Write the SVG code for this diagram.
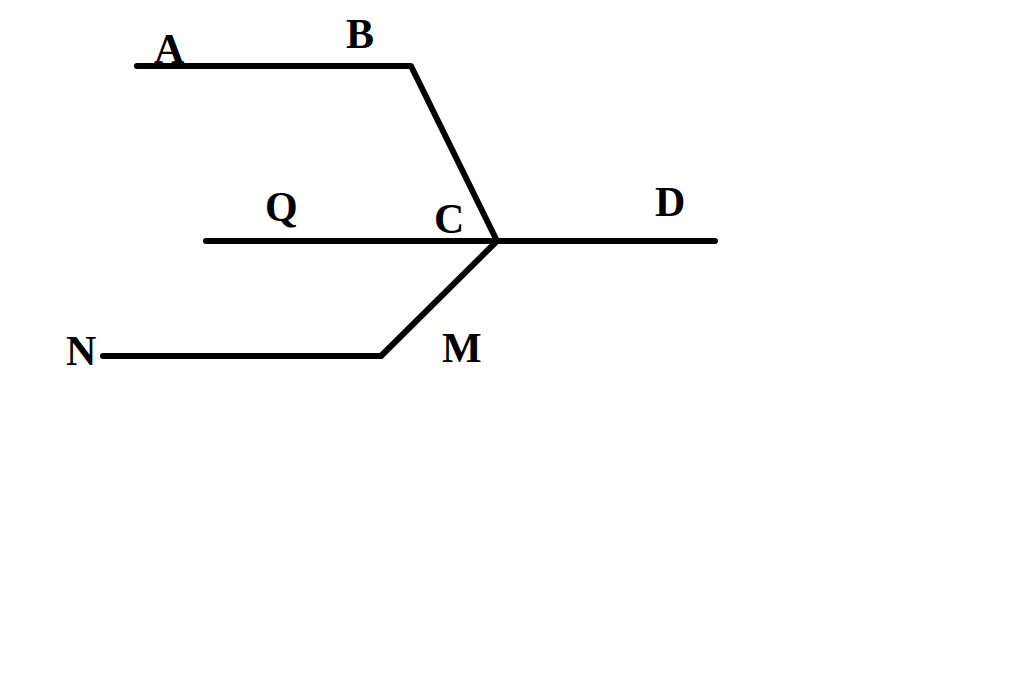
<svg xmlns="http://www.w3.org/2000/svg" width="1024" height="684" viewBox="0 0 1024 684">
<style>
.ln{stroke:#000;stroke-width:6;stroke-linecap:round;stroke-linejoin:round;fill:none}
.lb{font-family:"Liberation Serif","Times New Roman",serif;font-weight:bold;font-size:42px;fill:#000}
</style>
<rect width="1024" height="684" fill="#fff"/>
<g id="lines">
<polyline class="ln" points="137,66 411,66 497,241 381,356 103,356"/>
<line class="ln" x1="206" y1="241" x2="715" y2="241"/>
</g>
<g id="labels">
<text class="lb" x="154" y="63">A</text>
<text class="lb" x="346" y="48">B</text>
<text class="lb" x="265" y="221">Q</text>
<text class="lb" x="434" y="233">C</text>
<text class="lb" x="655" y="216">D</text>
<text class="lb" x="66" y="365">N</text>
<text class="lb" x="442" y="362">M</text>
</g>
</svg>
